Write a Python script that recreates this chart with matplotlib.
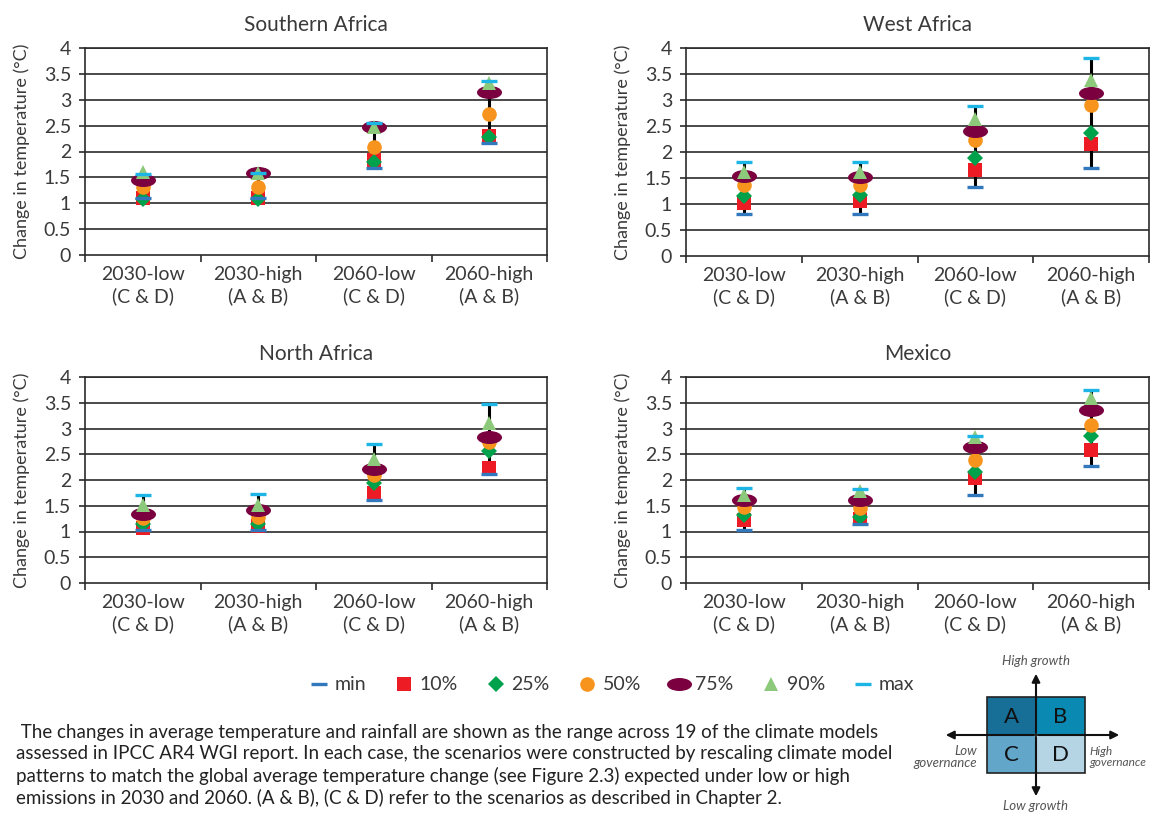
import matplotlib
matplotlib.use("Agg")
import matplotlib.pyplot as plt
from matplotlib.path import Path
from matplotlib.patches import Rectangle
from matplotlib.lines import Line2D

plt.rcParams['font.family'] = ['Lato', 'DejaVu Sans']
TEXT = '#3a3a3a'

# ---------------- data ----------------
scenarios = ['2030-low\n(C & D)', '2030-high\n(A & B)', '2060-low\n(C & D)', '2060-high\n(A & B)']
stat_names = ['min', '10%', '25%', '50%', '75%', '90%', 'max']

# rows: min, 10%, 25%, 50%, 75%, 90%, max ; columns: scenarios
southern_africa = [
    [1.11, 1.11, 1.69, 2.17],
    [1.10, 1.10, 1.84, 2.29],
    [1.09, 1.08, 1.79, 2.28],
    [1.32, 1.32, 2.08, 2.73],
    [1.45, 1.58, 2.48, 3.15],
    [1.61, 1.58, 2.48, 3.32],
    [1.57, 1.58, 2.56, 3.37],
]
west_africa = [
    [0.80, 0.81, 1.32, 1.69],
    [1.02, 1.05, 1.66, 2.16],
    [1.15, 1.17, 1.88, 2.37],
    [1.37, 1.37, 2.24, 2.90],
    [1.53, 1.52, 2.40, 3.13],
    [1.61, 1.61, 2.63, 3.39],
    [1.80, 1.80, 2.89, 3.81],
]
north_africa = [
    [1.02, 1.02, 1.62, 2.12],
    [1.06, 1.10, 1.74, 2.23],
    [1.15, 1.15, 1.94, 2.56],
    [1.26, 1.28, 2.10, 2.73],
    [1.34, 1.41, 2.21, 2.83],
    [1.52, 1.52, 2.41, 3.10],
    [1.70, 1.72, 2.70, 3.48],
]
mexico = [
    [1.02, 1.14, 1.71, 2.27],
    [1.23, 1.25, 2.03, 2.59],
    [1.32, 1.29, 2.15, 2.85],
    [1.47, 1.45, 2.39, 3.06],
    [1.61, 1.61, 2.64, 3.35],
    [1.70, 1.79, 2.84, 3.60],
    [1.84, 1.83, 2.85, 3.75],
]
region_titles = ['Southern Africa', 'West Africa', 'North Africa', 'Mexico']
region_data = [southern_africa, west_africa, north_africa, mexico]
yticks = [0, 0.5, 1, 1.5, 2, 2.5, 3, 3.5, 4]
ytick_labels = ['0', '0.5', '1', '1.5', '2', '2.5', '3', '3.5', '4']

caption = (" The changes in average temperature and rainfall are shown as the range across 19 of the climate models\n"
           "assessed in IPCC AR4 WGI report. In each case, the scenarios were constructed by rescaling climate model\n"
           "patterns to match the global average temperature change (see Figure 2.3) expected under low or high\n"
           "emissions in 2030 and 2060. (A & B), (C & D) refer to the scenarios as described in Chapter 2.")

# ---------------- styles ----------------
circ = Path.unit_circle()
ellipse = Path(circ.vertices * [1.0, 0.52], circ.codes)
styles = {
    'min': dict(marker='_', color='#3278bd', ms=11, mew=2.4),
    '10%': dict(marker='s', color='#ed1c24', ms=9.5, mew=0),
    '25%': dict(marker='D', color='#00a14b', ms=7.8, mew=0),
    '50%': dict(marker='o', color='#f7941d', ms=10.5, mew=0),
    '75%': dict(marker=ellipse, color='#7a0040', ms=18, mew=0),
    '90%': dict(marker='^', color='#8cc97a', ms=9.5, mew=0),
    'max': dict(marker='_', color='#1cb5e6', ms=11, mew=2.4),
}
draw_order = ['10%', '25%', '50%', '75%', '90%', 'min', 'max']

W, H = 1151, 819
fig = plt.figure(figsize=(W / 100, H / 100), dpi=100)

# axes boxes in pixels: (left, top, right, bottom)
boxes = [(85, 48, 547, 255), (686, 48, 1149, 256), (85, 377, 547, 583), (686, 377, 1149, 583)]
xs = list(range(len(scenarios)))

for (l, t, r, b), title, data in zip(boxes, region_titles, region_data):
    ax = fig.add_axes([l / W, 1 - b / H, (r - l) / W, (b - t) / H])
    ax.set_xlim(-0.5, len(scenarios) - 0.5)
    ax.set_ylim(0, 4)
    ax.set_yticks(yticks)
    ax.set_yticklabels(ytick_labels)
    for y in yticks[1:]:
        ax.axhline(y, color='#2b2b2b', lw=1.2, zorder=1)
    for s in ax.spines.values():
        s.set_color('#2b2b2b')
        s.set_linewidth(1.2)
    ax.set_xticks(xs)
    ax.set_xticklabels(scenarios, linespacing=1.3)
    ax.set_xticks([x - 0.5 for x in xs] + [xs[-1] + 0.5], minor=True)
    ax.tick_params(axis='x', which='major', length=0, pad=8, labelsize=14, labelcolor=TEXT)
    ax.tick_params(axis='x', which='minor', length=5, width=1.2, direction='out', color='#2b2b2b')
    ax.tick_params(axis='y', length=4, width=1.2, pad=6, labelsize=14, labelcolor=TEXT, color='#2b2b2b')
    ax.set_title(title, fontsize=15, color=TEXT, pad=12)
    mins = data[0]
    maxs = data[-1]
    ax.vlines(xs, mins, maxs, color='black', lw=2.2, zorder=2)
    for name in draw_order:
        vals = data[stat_names.index(name)]
        st = styles[name]
        ax.plot(xs, vals, ls='none', marker=st['marker'], color=st['color'],
                ms=st['ms'], mew=st['mew'], zorder=3, clip_on=False)
    fig.text((l - 63) / W, 1 - ((t + b) / 2) / H, 'Change in temperature (°C)', rotation=90,
             ha='center', va='center', fontsize=13, color=TEXT)

# legend
handles = [Line2D([], [], ls='none', marker=styles[n]['marker'], color=styles[n]['color'],
                  ms=styles[n]['ms'], mew=styles[n]['mew']) for n in stat_names]
fig.legend(handles, stat_names, ncol=7, loc='center', bbox_to_anchor=(611 / W, 1 - 685 / H),
           frameon=False, fontsize=14, labelcolor=TEXT, handlelength=1.1, handletextpad=0.25,
           columnspacing=1.4)

# caption
fig.text(16 / W, 1 - 724 / H, caption, ha='left', va='top', fontsize=13.5, color='#222222',
         linespacing=1.3)

# scenario diagram
dax = fig.add_axes([0, 0, 1, 1], zorder=-1)
dax.set_xlim(0, W)
dax.set_ylim(H, 0)
dax.axis('off')
quad_colors = {'A': '#176f98', 'B': '#0a89b3', 'C': '#62a6ca', 'D': '#b5d4e4'}
cx, cy = 1036, 735
bw, bh = 49, 38
for letter, (qx, qy) in zip('ABCD', [(cx - bw, cy - bh), (cx, cy - bh), (cx - bw, cy), (cx, cy)]):
    dax.add_patch(Rectangle((qx, qy), bw, bh, facecolor=quad_colors[letter],
                            edgecolor='#222222', lw=1.2))
    dax.text(qx + bw / 2, qy + bh / 2 + 1, letter, ha='center', va='center', fontsize=16, color='#111111')
arrow = dict(arrowstyle='-|>', color='#111111', lw=1.5, mutation_scale=12)
dax.annotate('', xy=(1122, cy), xytext=(cx, cy), arrowprops=arrow)
dax.annotate('', xy=(943, cy), xytext=(cx, cy), arrowprops=arrow)
dax.annotate('', xy=(cx, 671), xytext=(cx, cy), arrowprops=arrow)
dax.annotate('', xy=(cx, 799), xytext=(cx, cy), arrowprops=arrow)
small = dict(fontsize=9.5, color='#555555', style='italic')
dax.text(cx, 661, 'High growth', ha='center', va='center', **small)
dax.text(cx, 806, 'Low growth', ha='center', va='center', **small)
dax.text(977, 757, 'Low\ngovernance', ha='right', va='center', multialignment='right', linespacing=1.0, **small)
dax.text(1089, 757, 'High\ngovernance', ha='left', va='center', multialignment='left', linespacing=1.0,
         fontsize=8.6, color='#555555', style='italic')

fig.savefig('out.png', dpi=100)
